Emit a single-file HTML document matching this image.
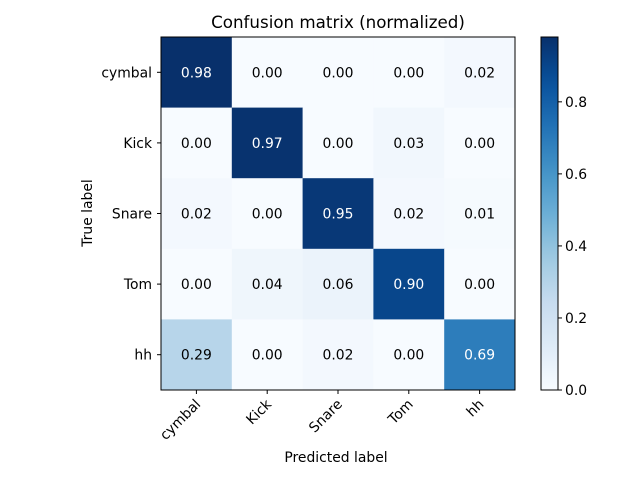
<!DOCTYPE html>
<html><head><meta charset="utf-8"><style>
body{margin:0;background:#fff;}
svg text{font-family:"DejaVu Sans","Liberation Sans",sans-serif;}
</style></head><body>
<svg id="chart" width="640" height="480" xmlns="http://www.w3.org/2000/svg">
<rect width="640" height="480" fill="#fff"/>
<text x="338" y="28" font-size="16.7" text-anchor="middle">Confusion matrix (normalized)</text>
<g id="cells"></g>
<g id="axes"></g>
<text x="336" y="462" font-size="13.9" text-anchor="middle">Predicted label</text>
<text x="92" y="213" font-size="13.9" text-anchor="middle" transform="rotate(-90 92 213)">True label</text>
<g id="cbar"></g>
</svg>
<script>
const classes = ["cymbal","Kick","Snare","Tom","hh"];
const row0 = [0.98,0.00,0.00,0.00,0.02];
const row1 = [0.00,0.97,0.00,0.03,0.00];
const row2 = [0.02,0.00,0.95,0.02,0.01];
const row3 = [0.00,0.04,0.06,0.90,0.00];
const row4 = [0.29,0.00,0.02,0.00,0.69];
const cbarTicks = [0.0,0.2,0.4,0.6,0.8];

const matrix=[row0,row1,row2,row3,row4];
const NS="http://www.w3.org/2000/svg";
const L=161,T=37,W=354,H=353,n=classes.length,cw=W/n,ch=H/n,FS=13.9;
let vmax=0;matrix.forEach(r=>r.forEach(v=>{if(v>vmax)vmax=v;}));
const stops=["#f7fbff","#deebf7","#c6dbef","#9ecae1","#6baed6","#4292c6","#2171b5","#08519c","#08306b"];
function hex(h){return [1,3,5].map(i=>parseInt(h.substr(i,2),16));}
function blues(t){t=Math.max(0,Math.min(1,t));const p=t*(stops.length-1),i=Math.min(Math.floor(p),stops.length-2),f=p-i;const a=hex(stops[i]),b=hex(stops[i+1]);return "rgb("+a.map((v,k)=>Math.round(v+(b[k]-v)*f)).join(",")+")";}
function el(tag,attrs,parent){const e=document.createElementNS(NS,tag);for(const k in attrs)e.setAttribute(k,attrs[k]);parent.appendChild(e);return e;}
const cells=document.getElementById("cells"),axes=document.getElementById("axes"),cb=document.getElementById("cbar");
matrix.forEach((r,i)=>r.forEach((v,j)=>{
  const rc=el("rect",{x:L+j*cw,y:T+i*ch,width:cw+0.5,height:ch+0.5,fill:blues(v/vmax)},cells);
  
  
  const tx=el("text",{x:L+(j+0.5)*cw,y:T+(i+0.5)*ch+5,"font-size":FS,"text-anchor":"middle",fill:v>vmax/2?"#fff":"#000"},cells);
  tx.textContent=v.toFixed(2);
  
  
}));
const fr=el("rect",{x:L,y:T,width:W,height:H,fill:"none",stroke:"#000","stroke-width":1},axes);


classes.forEach((c,k)=>{
  const x=L+(k+0.5)*cw,y=T+(k+0.5)*ch;
  el("line",{x1:x,y1:T+H,x2:x,y2:T+H+4,stroke:"#000"},axes);
  const xt=el("text",{x:x+5,y:T+H+15,"font-size":FS,"text-anchor":"end",transform:`rotate(-45 ${x+5} ${T+H+15})`},axes);
  xt.textContent=c;
  
  
  el("line",{x1:L-4,y1:y,x2:L,y2:y,stroke:"#000"},axes);
  const yt=el("text",{x:L-9,y:y+5,"font-size":FS,"text-anchor":"end"},axes);
  yt.textContent=c;
  
  
});
const CX=541,CW=17;
const defs=el("defs",{},cb);
const g=el("linearGradient",{id:"bg",x1:0,y1:1,x2:0,y2:0},defs);
for(let s=0;s<=20;s++){el("stop",{offset:s/20,"stop-color":blues(s/20)},g);}
const cr=el("rect",{x:CX,y:T,width:CW,height:H,fill:"url(#bg)",stroke:"#000","stroke-width":1},cb);


cbarTicks.forEach(t=>{
  const y=T+H-t/vmax*H;
  el("line",{x1:CX+CW,y1:y,x2:CX+CW+4,y2:y,stroke:"#000"},cb);
  const ct=el("text",{x:CX+CW+7,y:y+5,"font-size":FS},cb);
  ct.textContent=t.toFixed(1);
  
  
});
</script>
</body></html>
